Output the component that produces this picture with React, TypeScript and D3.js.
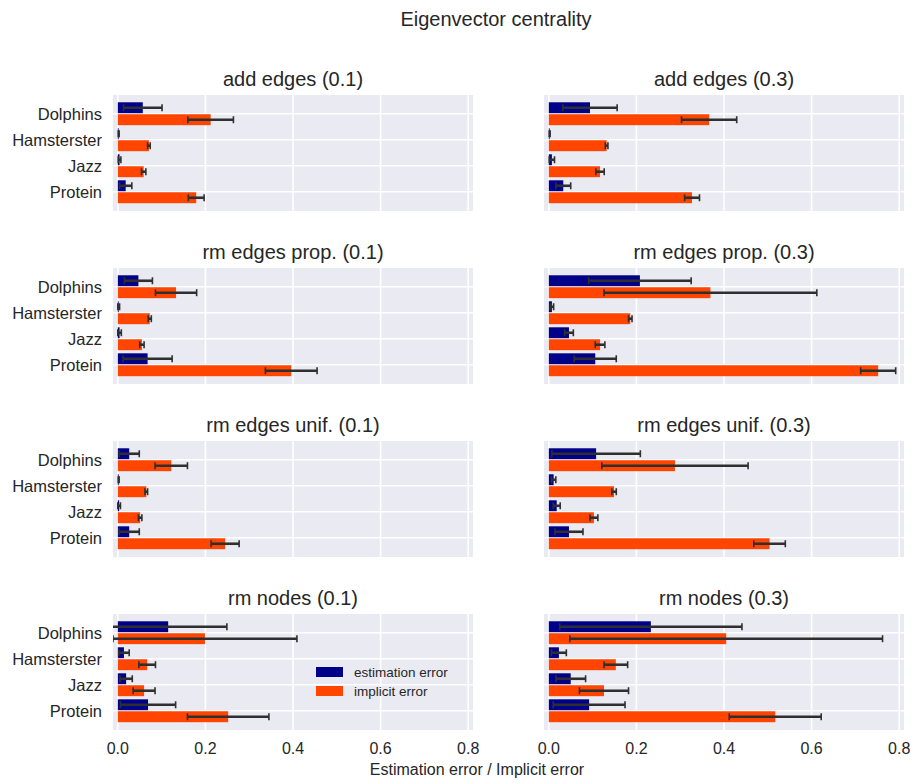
import React from "react";
import * as d3 from "d3";

// networks (top to bottom in every panel)
const categories = ["Dolphins", "Hamsterster", "Jazz", "Protein"];

const panelTitles = [
  "add edges (0.1)",
  "add edges (0.3)",
  "rm edges prop. (0.1)",
  "rm edges prop. (0.3)",
  "rm edges unif. (0.1)",
  "rm edges unif. (0.3)",
  "rm nodes (0.1)",
  "rm nodes (0.3)",
];

// one row per panel, one value per network
const estimationMean = [
  [0.057, 0.002, 0.004, 0.018],
  [0.094, 0.002, 0.007, 0.033],
  [0.047, 0.002, 0.004, 0.068],
  [0.208, 0.007, 0.046, 0.106],
  [0.026, 0.002, 0.003, 0.026],
  [0.108, 0.011, 0.018, 0.046],
  [0.115, 0.014, 0.019, 0.069],
  [0.233, 0.023, 0.05, 0.092],
];
const estimationErr = [
  [0.044, 0.001, 0.003, 0.014],
  [0.062, 0.001, 0.006, 0.017],
  [0.032, 0.002, 0.004, 0.056],
  [0.117, 0.004, 0.01, 0.048],
  [0.023, 0.001, 0.003, 0.023],
  [0.101, 0.005, 0.008, 0.032],
  [0.134, 0.012, 0.014, 0.063],
  [0.208, 0.017, 0.034, 0.082],
];
const implicitMean = [
  [0.212, 0.071, 0.059, 0.179],
  [0.366, 0.132, 0.117, 0.327],
  [0.133, 0.073, 0.055, 0.396],
  [0.369, 0.186, 0.117, 0.752],
  [0.122, 0.065, 0.051, 0.245],
  [0.288, 0.149, 0.103, 0.504],
  [0.199, 0.067, 0.06, 0.252],
  [0.405, 0.153, 0.126, 0.517],
];
const implicitErr = [
  [0.052, 0.003, 0.005, 0.018],
  [0.063, 0.003, 0.0095, 0.017],
  [0.047, 0.0035, 0.005, 0.059],
  [0.243, 0.004, 0.011, 0.04],
  [0.037, 0.003, 0.004, 0.032],
  [0.167, 0.005, 0.009, 0.036],
  [0.21, 0.019, 0.025, 0.093],
  [0.357, 0.027, 0.056, 0.105],
];

const xTicks = [0, 0.2, 0.4, 0.6, 0.8];
const seriesNames = ["estimation error", "implicit error"];

const FONT = "'Liberation Sans', Arial, 'DejaVu Sans', sans-serif";
const TEXT = "#262626";
const BG = "#EAEAF2";
const BLUE = "#000088";
const ORANGE = "#FF4500";
const ERR = "#2f2f2f";

const colX = [113, 544];
const rowY = [95, 268, 441, 614];
const axW = 360;
const axH = 116;
const barH = 0.44;

const x = d3.scaleLinear().domain([-0.011, 0.811]).range([0, axW]);
const y = d3.scaleLinear().domain([-0.72, 3.74]).range([0, axH]);
const fmt = d3.format(".1f");

type Bar = { mean: number; err: number; y0: number; y1: number; color: string };

const Panel = ({ idx }: { idx: number }) => {
  const row = Math.floor(idx / 2);
  const col = idx % 2;
  const clipId = `clip-${idx}`;

  const bars: Bar[] = [];
  categories.forEach((c, i) => {
    bars.push({
      mean: estimationMean[idx][i],
      err: estimationErr[idx][i],
      y0: i - barH,
      y1: i - 0.02,
      color: BLUE,
    });
    bars.push({
      mean: implicitMean[idx][i],
      err: implicitErr[idx][i],
      y0: i + 0.02,
      y1: i + barH,
      color: ORANGE,
    });
  });

  return (
    <g transform={`translate(${colX[col]},${rowY[row]})`}>
      <defs>
        <clipPath id={clipId}>
          <rect x={0} y={0} width={axW} height={axH} />
        </clipPath>
      </defs>
      <rect width={axW} height={axH} fill={BG} />
      {xTicks.map((t) => (
        <line key={t} x1={x(t)} x2={x(t)} y1={0} y2={axH} stroke="#fff" strokeWidth={1.6} />
      ))}
      {categories.map((c, i) => (
        <line key={c} x1={0} x2={axW} y1={y(i)} y2={y(i)} stroke="#fff" strokeWidth={1.6} />
      ))}
      <g clipPath={`url(#${clipId})`}>
        {bars.map((b, k) => (
          <rect
            key={k}
            x={x(0)}
            y={y(b.y0)}
            width={x(b.mean) - x(0)}
            height={y(b.y1) - y(b.y0)}
            fill={b.color}
          />
        ))}
        {bars.map((b, k) => {
          const cy = (y(b.y0) + y(b.y1)) / 2;
          const lo = x(b.mean - b.err);
          const hi = x(b.mean + b.err);
          return (
            <g key={k} stroke={ERR}>
              <line x1={lo} x2={hi} y1={cy} y2={cy} strokeWidth={2.6} />
              <line x1={lo} x2={lo} y1={cy - 3.5} y2={cy + 3.5} strokeWidth={1.6} />
              <line x1={hi} x2={hi} y1={cy - 3.5} y2={cy + 3.5} strokeWidth={1.6} />
            </g>
          );
        })}
      </g>
      <text
        x={axW / 2}
        y={-9}
        textAnchor="middle"
        fontSize={20}
        fill={TEXT}
        fontFamily={FONT}
      >
        {panelTitles[idx]}
      </text>
      {col === 0 &&
        categories.map((c, i) => (
          <text
            key={c}
            x={-11}
            y={y(i)}
            dy="0.35em"
            textAnchor="end"
            fontSize={16.5}
            fill={TEXT}
            fontFamily={FONT}
          >
            {c}
          </text>
        ))}
      {row === 3 &&
        xTicks.map((t) => (
          <text
            key={t}
            x={x(t)}
            y={axH + 24}
            textAnchor="middle"
            fontSize={16}
            fill={TEXT}
            fontFamily={FONT}
          >
            {fmt(t)}
          </text>
        ))}
      {idx === 6 && (
        <g fontFamily={FONT} fontSize={13.5} fill={TEXT}>
          {seriesNames.map((s, i) => (
            <g key={s} transform={`translate(203,${53 + i * 19})`}>
              <rect width={27} height={10} fill={i === 0 ? BLUE : ORANGE} />
              <text x={38} y={9.5}>
                {s}
              </text>
            </g>
          ))}
        </g>
      )}
    </g>
  );
};

export default function App() {
  return (
    <div style={{ position: "absolute", left: 0, top: 0 }}>
      <svg width={914} height={783} style={{ display: "block", background: "#fff" }}>
        <text
          x={496}
          y={26}
          textAnchor="middle"
          fontSize={20}
          fill={TEXT}
          fontFamily={FONT}
        >
          Eigenvector centrality
        </text>
        {panelTitles.map((t, i) => (
          <Panel key={t} idx={i} />
        ))}
        <text
          x={477}
          y={775}
          textAnchor="middle"
          fontSize={16}
          fill={TEXT}
          fontFamily={FONT}
        >
          Estimation error / Implicit error
        </text>
      </svg>
    </div>
  );
}
